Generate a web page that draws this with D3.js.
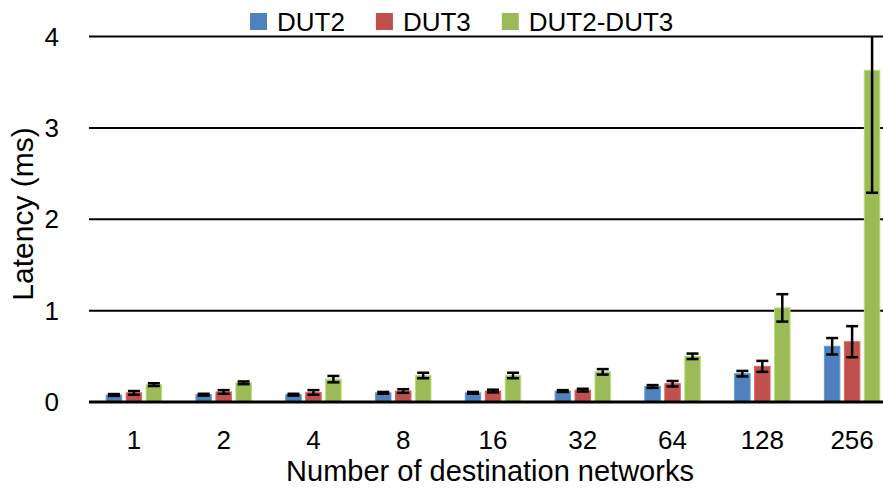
<!DOCTYPE html>
<html>
<head>
<meta charset="utf-8">
<script src="https://cdn.jsdelivr.net/npm/d3@7"></script>
<style>
    body { margin: 0; background: #fff; }
    svg { display: block; font-family: "Liberation Sans", Arial, sans-serif; }
</style>
</head>
<body>
<svg id="chart" width="883" height="495"></svg>
<script>
// values (ms)
var categories = ["1", "2", "4", "8", "16", "32", "64", "128", "256"];
var seriesNames = ["DUT2", "DUT3", "DUT2-DUT3"];
var seriesColors = ["#4F81BD", "#C0504D", "#9BBB59"];
var dut2 = [0.077, 0.08, 0.08, 0.10, 0.10, 0.12, 0.17, 0.31, 0.61];
var dut2Err = [0.01, 0.01, 0.01, 0.01, 0.01, 0.01, 0.015, 0.03, 0.09];
var dut3 = [0.10, 0.11, 0.105, 0.12, 0.12, 0.13, 0.20, 0.39, 0.66];
var dut3Err = [0.02, 0.02, 0.025, 0.02, 0.015, 0.015, 0.03, 0.06, 0.17];
var dut23 = [0.19, 0.21, 0.25, 0.29, 0.29, 0.33, 0.50, 1.03, 3.63];
var dut23Err = [0.015, 0.015, 0.035, 0.03, 0.03, 0.03, 0.03, 0.15, 1.34];
var yTicks = [0, 1, 2, 3, 4];

var values = [dut2, dut3, dut23];
var errors = [dut2Err, dut3Err, dut23Err];

var svg = d3.select("#chart");

var x = d3.scaleBand().domain(categories).range([89, 897]);
var xs = d3.scaleBand().domain(seriesNames).range([0, x.bandwidth()])
    .paddingInner(0.225).paddingOuter(0.86);
var y = d3.scaleLinear().domain([0, 4]).range([402, 36.5]);

// gridlines
svg.append("g")
    .selectAll("line")
    .data(yTicks.filter(function(d) { return d > 0; }))
    .enter()
    .append("line")
    .attr("x1", 89)
    .attr("x2", 883)
    .attr("y1", function(d) { return y(d); })
    .attr("y2", function(d) { return y(d); })
    .attr("stroke", "#000")
    .attr("stroke-width", 2);

// y tick labels
svg.append("g")
    .selectAll("text")
    .data(yTicks)
    .enter()
    .append("text")
    .attr("x", 59)
    .attr("y", function(d) { return y(d); })
    .attr("dy", "0.35em")
    .attr("text-anchor", "end")
    .attr("font-size", 26)
    .text(function(d) { return d; });

svg.append("clipPath")
    .attr("id", "plotclip")
    .append("rect")
    .attr("x", 0)
    .attr("y", y(4))
    .attr("width", 883)
    .attr("height", y(0) - y(4));

// bars
var groups = svg.append("g")
    .selectAll("g")
    .data(seriesNames)
    .enter()
    .append("g");

groups.each(function(name, si) {
    var g = d3.select(this);
    g.selectAll("rect")
        .data(categories)
        .enter()
        .append("rect")
        .attr("x", function(c) { return x(c) + xs(name); })
        .attr("width", xs.bandwidth())
        .attr("y", function(c, i) { return y(values[si][i]); })
        .attr("height", function(c, i) { return y(0) - y(values[si][i]); })
        .attr("fill", seriesColors[si])
        .attr("stroke", d3.color(seriesColors[si]).brighter(0.5))
        .attr("stroke-width", 1);

    // error bars
    var eb = g.append("g")
        .attr("clip-path", "url(#plotclip)")
        .attr("stroke", "#000")
        .attr("stroke-width", 2.5);
    categories.forEach(function(c, i) {
        var cx = x(c) + xs(name) + xs.bandwidth() / 2;
        var hi = y(values[si][i] + errors[si][i]);
        var lo = y(values[si][i] - errors[si][i]);
        eb.append("line").attr("x1", cx).attr("x2", cx).attr("y1", hi).attr("y2", lo);
        eb.append("line").attr("x1", cx - 6).attr("x2", cx + 6).attr("y1", hi).attr("y2", hi);
        eb.append("line").attr("x1", cx - 6).attr("x2", cx + 6).attr("y1", lo).attr("y2", lo);
    });
});

// baseline
svg.append("line")
    .attr("x1", 89)
    .attr("x2", 883)
    .attr("y1", y(0))
    .attr("y2", y(0))
    .attr("stroke", "#000")
    .attr("stroke-width", 3);

// x tick labels
svg.append("g")
    .selectAll("text")
    .data(categories)
    .enter()
    .append("text")
    .attr("x", function(c) { return x(c) + x.bandwidth() / 2; })
    .attr("y", 449)
    .attr("text-anchor", "middle")
    .attr("font-size", 26)
    .text(function(c) { return c; });

// axis titles
svg.append("text")
    .attr("x", 490)
    .attr("y", 481)
    .attr("text-anchor", "middle")
    .attr("font-size", 29)
    .text("Number of destination networks");

svg.append("text")
    .attr("transform", "translate(33,214) rotate(-90)")
    .attr("text-anchor", "middle")
    .attr("font-size", 30)
    .text("Latency (ms)");

// legend
var legend = svg.append("g");
var lx = 250;
seriesNames.forEach(function(name, i) {
    legend.append("rect")
        .attr("x", lx)
        .attr("y", 13)
        .attr("width", 17)
        .attr("height", 17)
        .attr("fill", seriesColors[i]);
    var t = legend.append("text")
        .attr("x", lx + 27)
        .attr("y", 31)
        .attr("font-size", 26)
        .text(name);
    lx += 27 + t.node().getComputedTextLength() + 31;
});
</script>
</body>
</html>
